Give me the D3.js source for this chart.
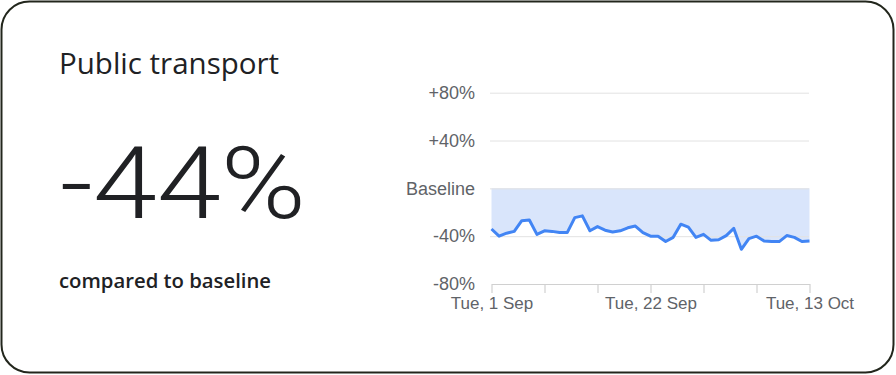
<!DOCTYPE html>
<html>
<head>
<meta charset="utf-8">
<script src="https://cdn.jsdelivr.net/npm/d3@7"></script>
<style>
  html, body { margin: 0; padding: 0; background: #fff; }
  svg { display: block; }
</style>
</head>
<body>
<svg id="card" width="896" height="375"></svg>
<script>
// Daily change vs. baseline (%), Tue 1 Sep – Tue 13 Oct 2020
const startDate = "2020-09-01";
const changeValues = [
  -34, -40, -37.5, -36, -27, -26.5, -38.5, -35.5, -36, -37, -37,
  -24.5, -23, -35.5, -32, -35, -36.5, -35.5, -33, -31.5, -37, -40,
  -40, -44.5, -41, -30, -32.5, -41, -38.5, -43.5, -43, -39.5, -33.5,
  -51, -42, -40, -44, -44.5, -44.5, -39.5, -41, -44.5, -44
];
const yTicks = [80, 40, 0, -40, -80];
const xTickDates = ["2020-09-01", "2020-09-08", "2020-09-15", "2020-09-22", "2020-09-29", "2020-10-06", "2020-10-13"];
const xLabelledDates = ["2020-09-01", "2020-09-22", "2020-10-13"];
const headline = "-44%";
const title = "Public transport";
const subtitle = "compared to baseline";

const parse = d3.timeParse("%Y-%m-%d");
const start = parse(startDate);
const data = changeValues.map((v, i) => ({ date: d3.timeDay.offset(start, i), value: v }));

const svg = d3.select("#card");

// card outline
svg.append("rect")
  .attr("x", 1.5).attr("y", 1.5)
  .attr("width", 892).attr("height", 371)
  .attr("rx", 28).attr("ry", 28)
  .attr("fill", "#fff")
  .attr("stroke", "#22261c")
  .attr("stroke-width", 2);

// left text block
svg.append("text")
  .attr("x", 59).attr("y", 74)
  .attr("font-family", "'Open Sans', Roboto, sans-serif")
  .attr("font-size", 29.5)
  .attr("fill", "#202124")
  .text(title);

// headline figure, widened horizontally to a fixed 246px run
const big = svg.append("text")
  .attr("x", 0).attr("y", 0)
  .attr("font-family", "Roboto, 'Open Sans', sans-serif")
  .attr("font-size", 101)
  .attr("font-weight", 300)
  .attr("fill", "#202124")
  .text(headline);
const natural = big.node().getComputedTextLength();
big.attr("transform", `translate(60,218) scale(${246 / natural},1)`);

svg.append("text")
  .attr("x", 59).attr("y", 288)
  .attr("font-family", "'Open Sans', Roboto, sans-serif")
  .attr("font-size", 20.3)
  .attr("font-weight", 600)
  .attr("fill", "#202124")
  .text(subtitle);

// chart
const x = d3.scaleTime()
  .domain([start, parse("2020-10-13")])
  .range([491.5, 809.5]);
const y = d3.scaleLinear()
  .domain([-80, 80])
  .range([284, 92.7]);

const g = svg.append("g");

// shaded band between baseline and the series
g.append("path")
  .datum(data)
  .attr("fill", "#d9e5fb")
  .attr("d", d3.area().x(d => x(d.date)).y0(y(0)).y1(d => y(d.value)));

// horizontal gridlines + labels
const yAxis = d3.axisLeft(y)
  .tickValues(yTicks)
  .tickSize(0)
  .tickPadding(15)
  .tickFormat(v => v > 0 ? "+" + v + "%" : v === 0 ? "Baseline" : "-" + Math.abs(v) + "%");

const yg = g.append("g")
  .attr("transform", "translate(490,0)")
  .call(yAxis);
yg.select(".domain").remove();
yg.selectAll("text")
  .attr("font-family", "'Liberation Sans', Arial, sans-serif")
  .attr("font-size", 18)
  .attr("fill", "#5f6368");
yg.selectAll(".tick")
  .filter(v => v !== -80)
  .append("line")
  .attr("x1", 0).attr("x2", 319)
  .attr("stroke", "#e3e3e3")
  .attr("stroke-width", 1);

// bottom axis with weekly ticks
const labelled = new Set(xLabelledDates);
const fmt = d3.timeFormat("%a, %-d %b");
const keyFmt = d3.timeFormat("%Y-%m-%d");
const xAxis = d3.axisBottom(x)
  .tickValues(xTickDates.map(parse))
  .tickSize(9)
  .tickSizeOuter(0)
  .tickPadding(4)
  .tickFormat(d => labelled.has(keyFmt(d)) ? fmt(d) : "");

const xg = g.append("g")
  .attr("transform", `translate(0,${y(-80)})`)
  .call(xAxis);
xg.select(".domain").attr("stroke", "#d0d0d0").attr("stroke-width", 1.2);
xg.selectAll(".tick line").attr("stroke", "#d0d0d0").attr("stroke-width", 1.2);
xg.selectAll("text")
  .attr("font-family", "'Liberation Sans', Arial, sans-serif")
  .attr("font-size", 17)
  .attr("fill", "#5f6368");

// series line
g.append("path")
  .datum(data)
  .attr("fill", "none")
  .attr("stroke", "#4285f4")
  .attr("stroke-width", 3)
  .attr("stroke-linejoin", "round")
  .attr("d", d3.line().x(d => x(d.date)).y(d => y(d.value)));
</script>
</body>
</html>
